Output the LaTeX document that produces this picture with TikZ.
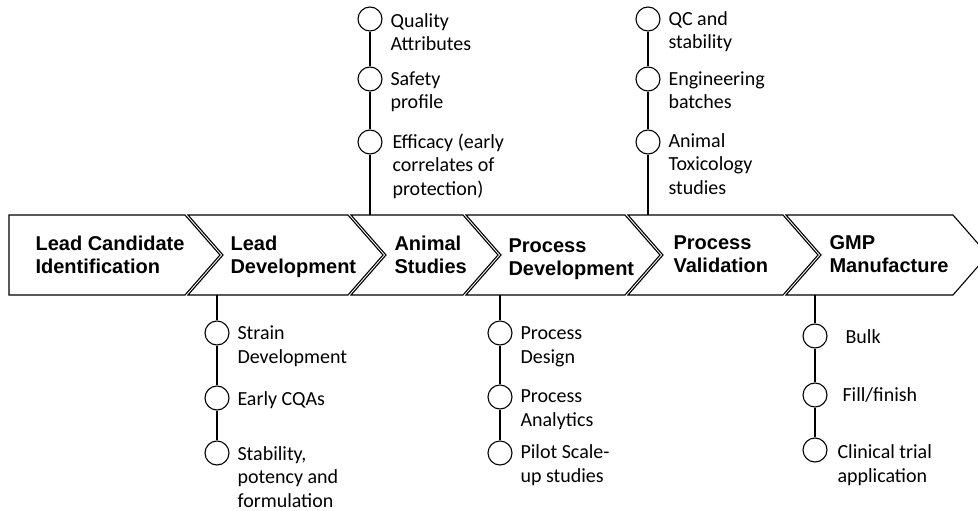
\documentclass[tikz,border=0pt]{standalone}
\usepackage{fontspec}
\setmainfont{Carlito}
\newfontfamily\headfont{Liberation Sans}
\usetikzlibrary{positioning}

\begin{document}
\begin{tikzpicture}[x=1pt,y=-1pt,line width=1.1pt,
    stage/.style={anchor=base west,align=left,inner sep=0pt,
      font=\headfont\bfseries\fontsize{20}{23}\selectfont},
    dot/.style={draw,circle,minimum size=24pt,inner sep=0pt},
    item/.style={anchor=base west,align=left,inner sep=0pt,
      font=\fontsize{20}{23.3}\selectfont}]
  \useasboundingbox (0,0) rectangle (978,511);
  \clip (0,0) rectangle (978,511);
  % the chevron band
  \draw (9,215) -- (185,215) -- (220,255) -- (185,295) -- (9,295) -- cycle;
  \foreach \a/\b in {188/348,351/463,466/625,628/783,786/953}
    \draw (\a,215) -- (\b,215) -- (\b+35,255) -- (\b,295) -- (\a,295) -- (\a+35,255) -- cycle;
  % stage names (placed by the baseline of the last line)
  \node[stage] (lci) at (35,273) {Lead Candidate\\Identification};
  \node[stage] (ld) at (230,273) {Lead\\Development};
  \node[stage] (as) at (394,273) {Animal\\Studies};
  \node[stage] (pd) at (508,275) {Process\\Development};
  \node[stage] (pv) at (673,272) {Process\\Validation};
  \node[stage] (gm) at (829,272) {GMP\\Manufacture};
  % where the stems meet the band
  \coordinate (asTop) at (370,215);
  \coordinate (pvTop) at (648,215);
  \coordinate (ldBot) at (217,295);
  \coordinate (pdBot) at (500,295);
  \coordinate (gmBot) at (815,295);
  \foreach \i/\y in {1/19,2/79,3/142}
    \node[dot] (as\i) at (370,\y) {};
  \foreach \i/\y in {1/19,2/79,3/142}
    \node[dot] (pv\i) at (648,\y) {};
  \foreach \i/\y in {1/333,2/398,3/453}
    \node[dot] (ld\i) at (217,\y) {};
  \foreach \i/\y in {1/333,2/397,3/453}
    \node[dot] (pd\i) at (500,\y) {};
  \foreach \i/\y in {1/336,2/395,3/450}
    \node[dot] (gm\i) at (815,\y) {};
  \draw (as1) -- (as2) -- (as3) -- (asTop);
  \draw (pv1) -- (pv2) -- (pv3) -- (pvTop);
  \draw (ldBot) -- (ld1) -- (ld2) -- (ld3);
  \draw (pdBot) -- (pd1) -- (pd2) -- (pd3);
  \draw (gmBot) -- (gm1) -- (gm2) -- (gm3);
  % labels
  \node[item] (as1t) at (390,51) {Quality\\Attributes};
  \node[item] (as2t) at (390,109) {Safety\\profile};
  \node[item] (as3t) at (392,195) {Efficacy (early\\correlates of\\protection)};
  \node[item] (pv1t) at (668,49) {QC and\\stability};
  \node[item] (pv2t) at (668,109) {Engineering\\batches};
  \node[item] (pv3t) at (668,194) {Animal\\Toxicology\\studies};
  \node[item] (ld1t) at (237,363) {Strain\\Development};
  \node[item] (ld2t) at (237,405) {Early CQAs};
  \node[item] (ld3t) at (237,507) {Stability,\\potency and\\formulation};
  \node[item] (pd1t) at (520,363) {Process\\Design};
  \node[item] (pd2t) at (520,426) {Process\\Analytics};
  \node[item] (pd3t) at (520,482) {Pilot Scale-\\up studies};
  \node[item] (gm1t) at (845,343) {Bulk};
  \node[item] (gm2t) at (842,401) {Fill/finish};
  \node[item] (gm3t) at (837,482) {Clinical trial\\application};
\end{tikzpicture}
\end{document}
